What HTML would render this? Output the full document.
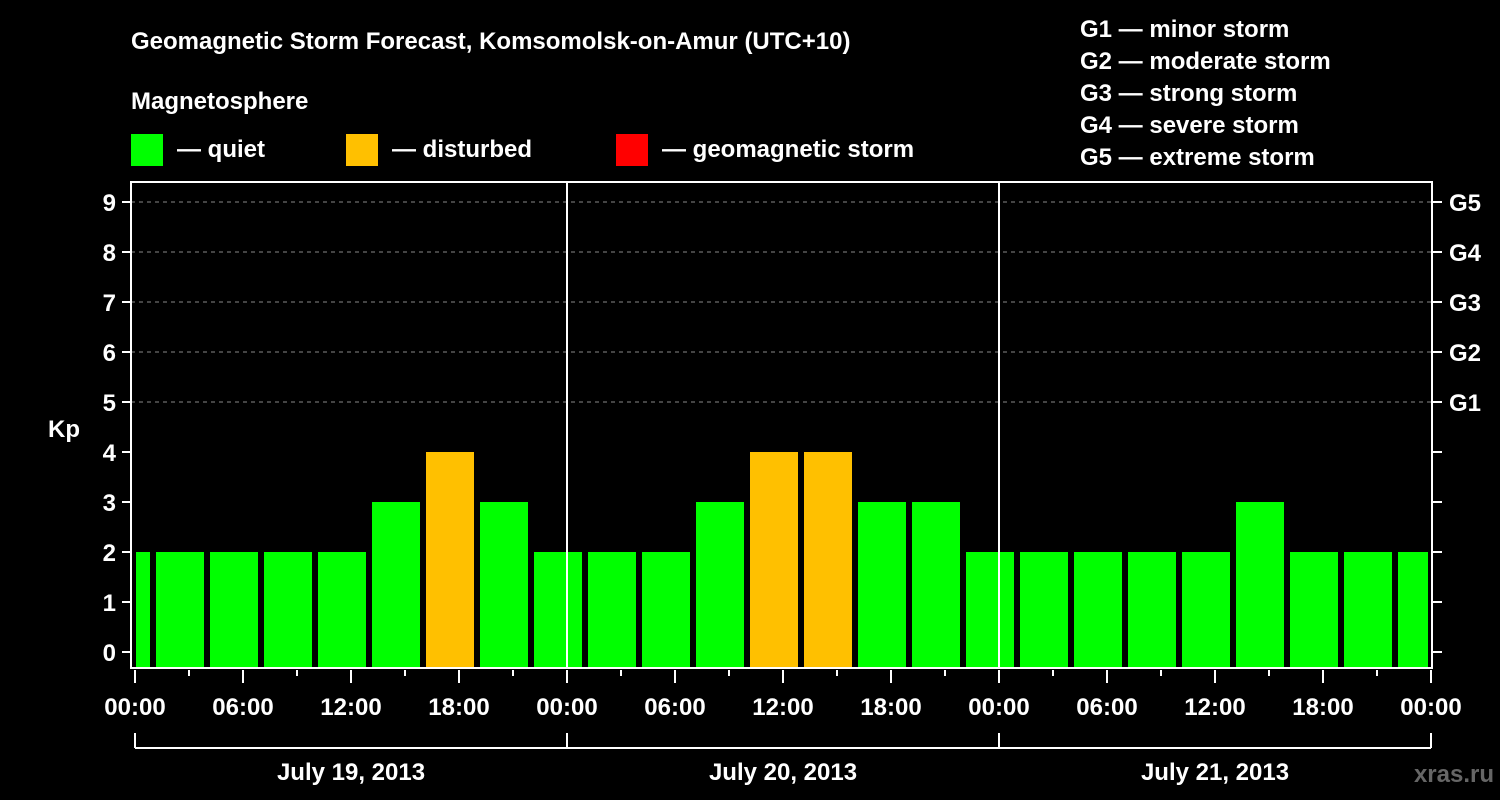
<!DOCTYPE html>
<html><head><meta charset="utf-8"><style>
html,body{margin:0;padding:0;background:#000;}
svg{display:block;font-family:"Liberation Sans",Arial,sans-serif;font-weight:bold;}
</style></head><body>
<svg id="chart" width="1500" height="800" viewBox="0 0 1500 800">
<rect width="1500" height="800" fill="#000"/>
<text x="131" y="49" fill="#fff" font-size="24">Geomagnetic Storm Forecast, Komsomolsk-on-Amur (UTC+10)</text>
<text x="131" y="109" fill="#fff" font-size="24">Magnetosphere</text>
<g><rect x="131" y="134" width="32" height="32" fill="#00ff00"/><text x="177" y="157" fill="#fff" font-size="24">— quiet</text></g>
<g><rect x="346" y="134" width="32" height="32" fill="#ffc000"/><text x="392" y="157" fill="#fff" font-size="24">— disturbed</text></g>
<g><rect x="616" y="134" width="32" height="32" fill="#ff0000"/><text x="662" y="157" fill="#fff" font-size="24">— geomagnetic storm</text></g>
<g fill="#fff" font-size="24">
<text x="1080" y="37">G1 — minor storm</text>
<text x="1080" y="69">G2 — moderate storm</text>
<text x="1080" y="101">G3 — strong storm</text>
<text x="1080" y="133">G4 — severe storm</text>
<text x="1080" y="165">G5 — extreme storm</text>
</g>
<text x="64" y="437" fill="#fff" font-size="24" text-anchor="middle">Kp</text>
<text x="1494" y="782" fill="#666" font-size="24" text-anchor="end">xras.ru</text>
<g id="plot"></g>
</svg>
<script>
const kpValues = [2,2,2,2,2,3,4,3,2,2,2,3,4,4,3,3,2,2,2,2,2,3,2,2,2];
const startHours = [-2,1,4,7,10,13,16,19,22,25,28,31,34,37,40,43,46,49,52,55,58,61,64,67,70];
const yTicks = [0,1,2,3,4,5,6,7,8,9];
const gLabels = ["G1","G2","G3","G4","G5"];
const xTickLabels = ["00:00","06:00","12:00","18:00","00:00","06:00","12:00","18:00","00:00","06:00","12:00","18:00","00:00"];
const dateLabels = ["July 19, 2013","July 20, 2013","July 21, 2013"];

const NS="http://www.w3.org/2000/svg";
const L=131,R=1432,T=182,B=668;
const x0=135, pxh=18;
const xs=h=>x0+h*pxh;
const ys=v=>652-v*50;
const g=document.getElementById('plot');
function mk(tag,attrs,parent){const e=document.createElementNS(NS,tag);for(const k in attrs)e.setAttribute(k,attrs[k]);(parent||g).appendChild(e);return e;}

// grid
yTicks.forEach(v=>{
  if(v>=5){const l=mk('line',{x1:L,x2:R,y1:ys(v),y2:ys(v),stroke:'#888','stroke-width':1,'stroke-dasharray':'4,4'});
  
  }
});
// bars
kpValues.forEach((v,i)=>{
  let a=xs(startHours[i])+3,b=xs(startHours[i]+3)-3;
  a=Math.max(a,L+5);b=Math.min(b,R-4);
  const c=v>=5?'#ff0000':(v>=4?'#ffc000':'#00ff00');
  const r=mk('rect',{x:a,y:ys(v),width:b-a,height:B-ys(v),fill:c});
  
  
});
// day separators
[1,2].forEach(d=>{const l=mk('line',{x1:xs(d*24),x2:xs(d*24),y1:T,y2:B,stroke:'#fff','stroke-width':2});

});
// frame
const fr=mk('rect',{x:L,y:T,width:R-L,height:B-T,fill:'none',stroke:'#fff','stroke-width':2});


// y ticks & labels
yTicks.forEach(v=>{
  mk('line',{x1:122,x2:L,y1:ys(v),y2:ys(v),stroke:'#fff','stroke-width':2});
  mk('line',{x1:R,x2:1442,y1:ys(v),y2:ys(v),stroke:'#fff','stroke-width':2});
  const t=mk('text',{x:116,y:ys(v)+9,fill:'#fff','font-size':24,'text-anchor':'end'});t.textContent=v;
  
  
});
gLabels.forEach((s,i)=>{const t=mk('text',{x:1449,y:ys(i+5)+9,fill:'#fff','font-size':24});t.textContent=s;

});
// x ticks
for(let h=0;h<=72;h+=3){const major=h%6===0;mk('line',{x1:xs(h),x2:xs(h),y1:B+2,y2:major?B+15:B+8,stroke:'#fff','stroke-width':2});}
xTickLabels.forEach((s,i)=>{const t=mk('text',{x:xs(i*6),y:715,fill:'#fff','font-size':24,'text-anchor':'middle'});t.textContent=s;

});
// date bracket
mk('line',{x1:xs(0),x2:xs(72),y1:748,y2:748,stroke:'#fff','stroke-width':2});
[0,1,2,3].forEach(d=>mk('line',{x1:xs(d*24),x2:xs(d*24),y1:733,y2:748,stroke:'#fff','stroke-width':2}));
dateLabels.forEach((s,i)=>{const t=mk('text',{x:xs(i*24+12),y:780,fill:'#fff','font-size':24,'text-anchor':'middle'});t.textContent=s;

});
</script>
</body></html>
